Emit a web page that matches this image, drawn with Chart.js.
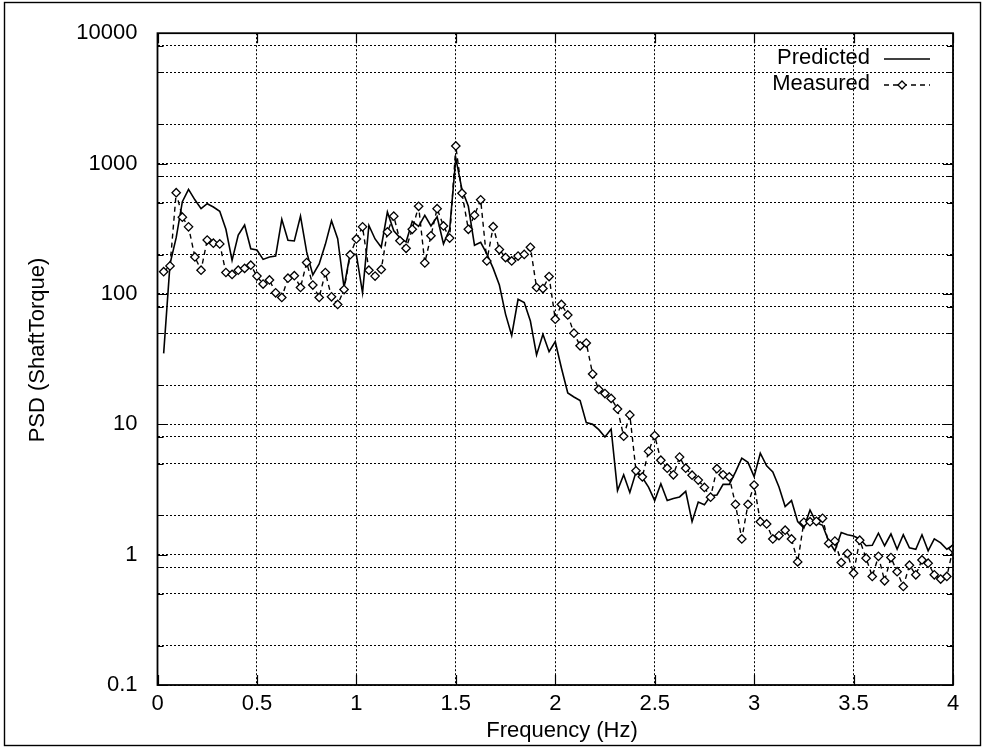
<!DOCTYPE html>
<html>
<head>
<meta charset="utf-8">
<title>PSD Shaft Torque</title>
<script src="https://cdn.jsdelivr.net/npm/chart.js@4.4.0/dist/chart.umd.min.js"></script>
<style>
    html, body { margin: 0; padding: 0; background: #fff; }
    #psdChart { display: block; }
</style>
</head>
<body>
<canvas id="psdChart" width="986" height="749"></canvas>
<script>
// frequency bins (Hz), 1/32 Hz apart
var freq = [0.031, 0.063, 0.094, 0.125, 0.156, 0.188, 0.219, 0.25, 0.281, 0.313, 0.344, 0.375, 0.406, 0.438, 0.469, 0.5,
    0.531, 0.563, 0.594, 0.625, 0.656, 0.688, 0.719, 0.75, 0.781, 0.813, 0.844, 0.875, 0.906, 0.938, 0.969, 1.0,
    1.031, 1.063, 1.094, 1.125, 1.156, 1.188, 1.219, 1.25, 1.281, 1.313, 1.344, 1.375, 1.406, 1.438, 1.469, 1.5,
    1.531, 1.563, 1.594, 1.625, 1.656, 1.688, 1.719, 1.75, 1.781, 1.813, 1.844, 1.875, 1.906, 1.938, 1.969, 2.0,
    2.031, 2.063, 2.094, 2.125, 2.156, 2.188, 2.219, 2.25, 2.281, 2.313, 2.344, 2.375, 2.406, 2.438, 2.469, 2.5,
    2.531, 2.563, 2.594, 2.625, 2.656, 2.688, 2.719, 2.75, 2.781, 2.813, 2.844, 2.875, 2.906, 2.938, 2.969, 3.0,
    3.031, 3.063, 3.094, 3.125, 3.156, 3.188, 3.219, 3.25, 3.281, 3.313, 3.344, 3.375, 3.406, 3.438, 3.469, 3.5,
    3.531, 3.563, 3.594, 3.625, 3.656, 3.688, 3.719, 3.75, 3.781, 3.813, 3.844, 3.875, 3.906, 3.938, 3.969, 4.0];

var predicted = [35, 170, 270, 510, 634, 527, 451, 492, 464, 431, 313, 181, 283, 338, 222, 217,
    184, 192, 195, 373, 258, 255, 395, 210, 140, 170, 240, 364, 265, 112, 205, 200,
    102, 335, 264, 228, 425, 305, 270, 250, 360, 330, 400, 332, 391, 242, 313, 1100,
    631, 470, 236, 249, 203, 157, 117, 70, 48, 91, 86, 62, 34, 49, 36, 43,
    27, 17.4, 16.2, 15.2, 10.3, 10, 9.1, 8, 9.2, 3.1, 4.1, 3.0, 4.3, 3.9, 3.3, 2.6,
    3.5, 2.6, 2.7, 2.77, 3.06, 1.79, 2.53, 2.41, 2.83, 2.87, 3.46, 3.46, 4.3, 5.5, 5.1, 3.97,
    6.0, 4.8, 4.3, 3.3, 2.34, 2.6, 1.79, 1.6, 2.2, 1.76, 1.68, 1.27, 1.07, 1.48, 1.42, 1.39,
    1.32, 1.17, 1.18, 1.46, 1.17, 1.44, 1.10, 1.42, 1.13, 1.10, 1.42, 1.07, 1.32, 1.23, 1.10, 1.18];

var measured = [148, 164, 598, 388, 327, 192, 152, 259, 245, 242, 146, 141, 152, 157, 166, 137,
    119, 128, 102, 94, 132, 138, 112, 174, 117, 94, 146, 95, 83, 108, 200, 264,
    327, 152, 137, 154, 299, 395, 256, 224, 313, 470, 173, 279, 451, 332, 268, 1365,
    592, 313, 402, 527, 179, 328, 219, 190, 179, 195, 201, 228, 112, 110, 136, 64,
    83, 69, 50, 40, 42, 24.3, 18.5, 17.2, 15.8, 13.1, 8.1, 11.8, 4.4, 3.95, 6.2, 8.2,
    5.3, 4.6, 4.1, 5.6, 4.6, 4.07, 3.73, 3.28, 2.76, 4.56, 4.1, 3.95, 2.43, 1.32, 2.43, 3.42,
    1.79, 1.72, 1.32, 1.40, 1.54, 1.32, 0.88, 1.77, 1.79, 1.8, 1.9, 1.22, 1.27, 0.87, 1.02, 0.72,
    1.29, 0.94, 0.68, 0.97, 0.63, 0.95, 0.74, 0.57, 0.83, 0.70, 0.91, 0.86, 0.70, 0.65, 0.68, 1.11];

var xTicks = [0, 0.5, 1, 1.5, 2, 2.5, 3, 3.5, 4];
var yDecades = [0.1, 1, 10, 100, 1000, 10000];
var yDecadeLabels = ['0.1', '1', '10', '100', '1000', '10000'];
var yGrid = [0.1, 0.2, 0.5, 0.8, 1, 2, 5, 8, 10, 20, 50, 80, 100, 200, 500, 800, 1000, 2000, 5000, 8000, 10000];

var FONT = "'Liberation Sans', Arial, Helvetica, sans-serif";

function toPoints(xs, ys) {
    var pts = [];
    for (var i = 0; i < xs.length; i++) {
        pts.push({ x: xs[i], y: ys[i] });
    }
    return pts;
}

// gnuplot-like frame, inward tics, key and axis titles
var framePlugin = {
    id: 'frame',
    beforeDraw: function (chart) {
        var ctx = chart.ctx;
        ctx.save();
        ctx.fillStyle = '#fff';
        ctx.fillRect(0, 0, chart.width, chart.height);
        ctx.restore();
    },
    afterDraw: function (chart) {
        var ctx = chart.ctx;
        var a = chart.chartArea;
        var xs = chart.scales.x, ys = chart.scales.y;
        ctx.save();
        ctx.strokeStyle = '#000';
        ctx.setLineDash([]);

        // tics
        ctx.lineWidth = 1.2;
        ctx.beginPath();
        yGrid.forEach(function (v) {
            var py = Math.round(ys.getPixelForValue(v)) + 0.5;
            var len = yDecades.indexOf(v) >= 0 ? 10 : 6;
            ctx.moveTo(a.left, py); ctx.lineTo(a.left + len, py);
            ctx.moveTo(a.right, py); ctx.lineTo(a.right - len, py);
        });
        xTicks.forEach(function (v) {
            var px = Math.round(xs.getPixelForValue(v)) + 0.5;
            ctx.moveTo(px, a.bottom); ctx.lineTo(px, a.bottom - 10);
            ctx.moveTo(px, a.top); ctx.lineTo(px, a.top + 10);
        });
        ctx.stroke();

        // plot border
        ctx.lineWidth = 1.8;
        ctx.strokeRect(a.left, a.top, a.right - a.left, a.bottom - a.top);

        // outer frame
        ctx.lineWidth = 1.4;
        ctx.strokeRect(4.5, 2.5, 976, 743);

        // key
        ctx.fillStyle = '#000';
        ctx.font = '22px ' + FONT;
        ctx.textAlign = 'right';
        ctx.textBaseline = 'middle';
        ctx.fillText('Predicted', 870, 58);
        ctx.fillText('Measured', 870, 84);

        ctx.lineWidth = 1.6;
        ctx.beginPath();
        ctx.moveTo(884, 59); ctx.lineTo(930, 59);
        ctx.stroke();

        ctx.lineWidth = 1.4;
        ctx.setLineDash([5, 4]);
        ctx.beginPath();
        ctx.moveTo(884, 85); ctx.lineTo(930, 85);
        ctx.stroke();
        ctx.setLineDash([]);
        ctx.fillStyle = '#fff';
        ctx.beginPath();
        ctx.moveTo(902, 81); ctx.lineTo(906, 85); ctx.lineTo(902, 89); ctx.lineTo(898, 85);
        ctx.closePath();
        ctx.fill();
        ctx.lineWidth = 1.3;
        ctx.stroke();

        // axis titles
        ctx.fillStyle = '#000';
        ctx.textAlign = 'center';
        ctx.fillText('Frequency (Hz)', 562, 731);
        ctx.translate(38, 350);
        ctx.rotate(-Math.PI / 2);
        ctx.fillText('PSD (ShaftTorque)', 0, 0);
        ctx.restore();
    }
};

var psdChart = new Chart(document.getElementById('psdChart'), {
    type: 'line',
    data: {
        datasets: [{
            label: 'Measured',
            data: toPoints(freq, measured),
            borderColor: '#000',
            borderWidth: 1.4,
            borderDash: [5, 4],
            pointStyle: 'rectRot',
            pointRadius: 4.2,
            pointBackgroundColor: '#fff',
            pointBorderColor: '#000',
            pointBorderWidth: 1.3,
            fill: false,
            tension: 0
        }, {
            label: 'Predicted',
            data: toPoints(freq, predicted),
            borderColor: '#000',
            borderWidth: 1.6,
            pointRadius: 0,
            fill: false,
            tension: 0
        }]
    },
    options: {
        responsive: false,
        animation: false,
        layout: { padding: { left: 0, top: 22, right: 33, bottom: 0 } },
        plugins: {
            legend: { display: false },
            tooltip: { enabled: false }
        },
        scales: {
            x: {
                type: 'linear',
                min: 0,
                max: 4,
                afterBuildTicks: function (scale) {
                    scale.ticks = xTicks.map(function (v) { return { value: v }; });
                },
                afterFit: function (scale) { scale.height = 64; },
                ticks: {
                    color: '#000',
                    font: { family: FONT, size: 22 },
                    padding: 6,
                    maxRotation: 0,
                    autoSkip: false,
                    callback: function (v) { return String(v); }
                },
                grid: { color: '#000', lineWidth: 1, drawTicks: false },
                border: { display: false, dash: [2, 2] }
            },
            y: {
                type: 'logarithmic',
                min: 0.1,
                max: 10000,
                afterBuildTicks: function (scale) {
                    scale.ticks = yGrid.map(function (v) { return { value: v }; });
                },
                afterFit: function (scale) { scale.width = 157.5; },
                ticks: {
                    color: '#000',
                    font: { family: FONT, size: 22 },
                    padding: 20,
                    autoSkip: false,
                    callback: function (v) {
                        var i = yDecades.indexOf(v);
                        return i >= 0 ? yDecadeLabels[i] : '';
                    }
                },
                grid: { color: '#000', lineWidth: 1, drawTicks: false },
                border: { display: false, dash: [2, 2] }
            }
        }
    },
    plugins: [framePlugin]
});
</script>
</body>
</html>
